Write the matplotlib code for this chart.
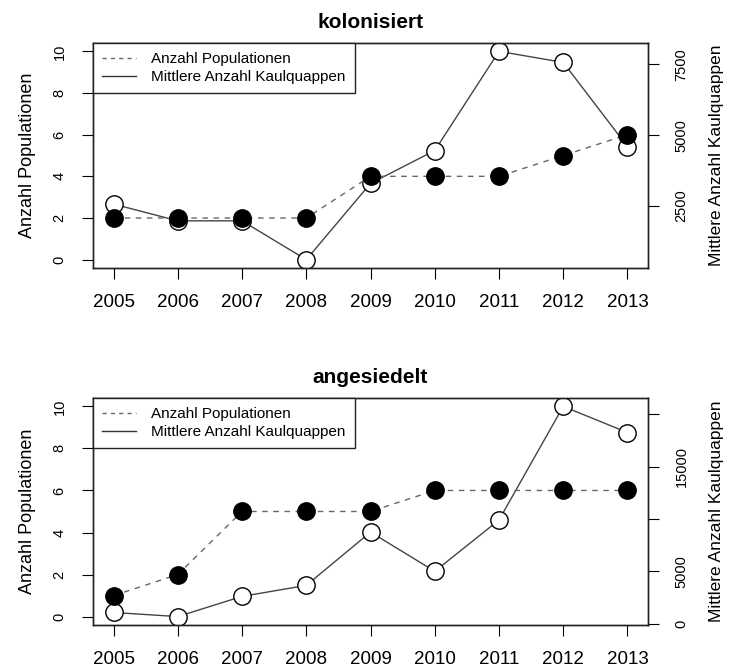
import matplotlib
matplotlib.use("Agg")
import matplotlib.pyplot as plt
from matplotlib.lines import Line2D

plt.rcParams['font.family'] = ['Liberation Sans', 'DejaVu Sans']

years = [2005, 2006, 2007, 2008, 2009, 2010, 2011, 2012, 2013]

# kolonisiert
kol_pop = [2, 2, 2, 2, 4, 4, 4, 5, 6]
kol_kaul = [2570, 1980, 1980, 610, 3300, 4460, 7960, 7570, 4600]
kol_ticks = [2500, 5000, 7500]
kol_ticklabels = ["2500", "5000", "7500"]

# angesiedelt
ang_pop = [1, 2, 5, 5, 5, 6, 6, 6, 6]
ang_kaul = [1060, 670, 2600, 3650, 8750, 5000, 9900, 20770, 18270]
ang_ticks = [0, 5000, 10000, 15000, 20000]
ang_ticklabels = ["0", "5000", "", "15000", ""]

pop_ticks = [0, 2, 4, 6, 8, 10]

fig = plt.figure(figsize=(7.3, 6.69), dpi=100)

panels = [
    ("kolonisiert", kol_pop, kol_kaul, kol_ticks, kol_ticklabels, [0.1274, 0.5994, 0.7603, 0.3363]),
    ("angesiedelt", ang_pop, ang_kaul, ang_ticks, ang_ticklabels, [0.1274, 0.0658, 0.7603, 0.3393]),
]

for title, pop, kaul, rticks, rlabels, rect in panels:
    ax = fig.add_axes(rect)
    ax2 = ax.twinx()
    # main axes above twin, so filled dots lie on top
    ax.set_zorder(ax2.get_zorder() + 1)
    ax.patch.set_visible(False)

    ax2.plot(years, kaul, color='#444444', lw=1, ls='-', marker='o', ms=12.5,
             mfc='white', mec='black', mew=1)
    ax.plot(years, pop, color='#666666', lw=1, ls=(0, (4, 4)), marker='o', ms=12.5,
            mfc='black', mec='black')

    ax.set_xlim(2005 - 0.32, 2013 + 0.32)
    ax.set_ylim(-0.4, 10.4)
    lo, hi = min(kaul), max(kaul)
    r = hi - lo
    ax2.set_ylim(lo - 0.04 * r, hi + 0.04 * r)

    ax.set_xticks(years)
    ax.set_xticklabels([str(y) for y in years], fontsize=13.5)
    ax.set_yticks(pop_ticks)
    ax.set_yticklabels([str(t) for t in pop_ticks], fontsize=10.5, rotation=90, va='center')
    ax2.set_yticks(rticks)
    ax2.set_yticklabels(rlabels, fontsize=10.5, rotation=90, va='center')

    ax.tick_params(axis='x', direction='out', length=8, width=0.8, pad=11)
    ax.tick_params(axis='y', direction='out', length=8, width=0.8, pad=11)
    ax2.tick_params(axis='y', direction='out', length=8, width=0.8, pad=11)

    for a in (ax, ax2):
        for s in a.spines.values():
            s.set_linewidth(1.0)
            s.set_color('#222222')

    ax.set_ylabel("Anzahl Populationen", fontsize=13, labelpad=12)
    ax2.set_ylabel("Mittlere Anzahl Kaulquappen", fontsize=12.5, labelpad=15)
    ax.set_title(title, fontsize=15, fontweight='bold', pad=11)

    handles = [Line2D([], [], color='#666666', lw=1, ls=(0, (3, 3))),
               Line2D([], [], color='#333333', lw=1, ls='-')]
    leg = ax.legend(handles, ["Anzahl Populationen", "Mittlere Anzahl Kaulquappen"],
                    loc='upper left', fontsize=11, frameon=True, fancybox=False,
                    edgecolor='#222222', framealpha=1, borderaxespad=0,
                    handlelength=2.2, handletextpad=1.0, borderpad=0.6,
                    labelspacing=0.25)
    leg.get_frame().set_linewidth(1.0)

fig.savefig("out.png", dpi=100)
